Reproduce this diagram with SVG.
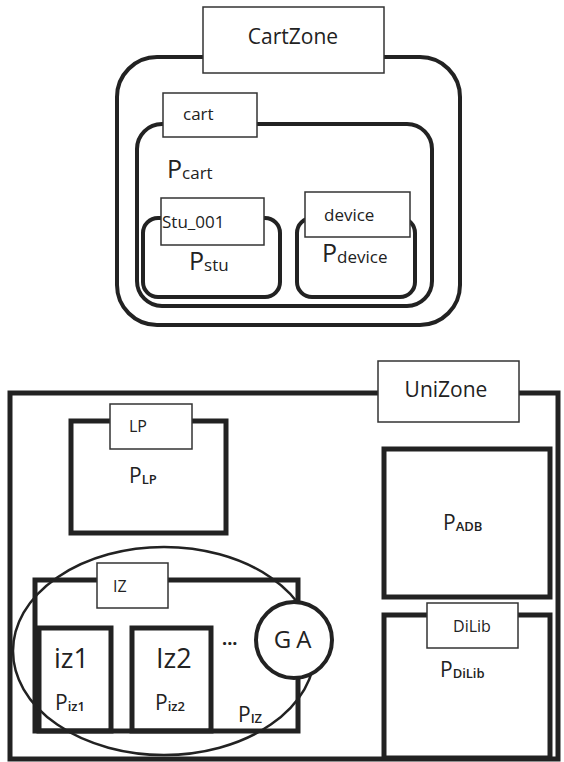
<svg xmlns="http://www.w3.org/2000/svg" width="564" height="762" viewBox="0 0 564 762">
<style>
.frame{fill:none;stroke:#222;stroke-width:4}
.thick{fill:none;stroke:#222;stroke-width:5}
.lbl{fill:#fff;stroke:#333;stroke-width:1.5}
text{font-family:"Open Sans","DejaVu Sans",sans-serif;fill:#222}
.t{font-size:17px}
.tc{text-anchor:middle}
.P{font-size:25px}
.Ps{font-size:21px}
.sub{font-size:17px}
.sub2{font-size:13px;font-weight:600}
</style>
<rect width="564" height="762" fill="#fff"/>
<g id="CartZone">
<rect class="frame" x="117" y="57" width="343" height="268" rx="40"/>
<rect class="lbl" x="203" y="7" width="181" height="66"/>
<text class="tc" x="293" y="44" font-size="21">CartZone</text>
</g>
<g id="cart">
<rect class="frame" x="137" y="124" width="295" height="182" rx="25"/>
<rect class="lbl" x="163" y="93" width="94" height="44"/>
<text class="t" x="183" y="120">cart</text>
<text class="P" x="167" y="178">P<tspan class="sub" dy="1">cart</tspan></text>
</g>
<g id="stu">
<rect class="frame" x="143" y="218" width="137" height="79" rx="15"/>
<rect class="lbl" x="161" y="198" width="103" height="47"/>
<text class="t" x="162" y="228">Stu_001</text>
<text class="P" x="189" y="270">P<tspan class="sub" dy="1">stu</tspan></text>
</g>
<g id="device">
<rect class="frame" x="297" y="218" width="118" height="79" rx="15"/>
<rect class="lbl" x="305" y="192" width="105" height="45"/>
<text class="t" x="324" y="221">device</text>
<text class="P" x="322" y="262">P<tspan class="sub" dy="1">device</tspan></text>
</g>
<g id="UniZone">
<rect class="thick" x="10" y="393" width="548" height="366"/>
<rect class="lbl" x="378" y="361" width="141" height="61"/>
<text class="tc" x="446" y="397" font-size="21">UniZone</text>
</g>
<g id="LP">
<rect class="thick" x="71" y="421" width="155" height="112"/>
<rect class="lbl" x="110" y="404" width="82" height="45"/>
<text x="129" y="432" font-size="16">LP</text>
<text class="Ps" x="129" y="483">P<tspan class="sub2" dy="1">LP</tspan></text>
</g>
<g id="ADB">
<rect class="thick" x="384" y="449" width="166" height="148"/>
<text class="Ps" x="443" y="530">P<tspan class="sub2" dy="1">ADB</tspan></text>
</g>
<g id="DiLib">
<rect class="thick" x="384" y="615" width="166" height="143"/>
<rect class="lbl" x="427" y="603" width="91" height="45"/>
<text class="tc" x="472" y="632" font-size="16">DiLib</text>
<text class="Ps" x="440" y="677">P<tspan class="sub2" dy="1">DiLib</tspan></text>
</g>
<g id="IZ">
<rect class="thick" x="35" y="580" width="263" height="151"/>
<rect class="lbl" x="97" y="563" width="71" height="45"/>
<text x="113" y="592" font-size="16">IZ</text>
<text x="238" y="722" class="Ps">P<tspan class="sub2" dy="1">IZ</tspan></text>
<text x="222" y="645" font-size="18" font-weight="bold">...</text>
</g>
<g id="iz1">
<rect class="thick" x="39" y="628" width="72" height="103"/>
<text x="54" y="668" font-size="27">iz1</text>
<text class="Ps" x="55" y="710">P<tspan class="sub2" dy="1">iz1</tspan></text>
</g>
<g id="iz2">
<rect class="thick" x="132" y="628" width="79" height="103"/>
<text x="156" y="668" font-size="27">Iz2</text>
<text class="Ps" x="155" y="710">P<tspan class="sub2" dy="1">iz2</tspan></text>
</g>
<g id="IZset">
<ellipse cx="164" cy="651" rx="151" ry="104" fill="none" stroke="#222" stroke-width="2.5"/>
</g>
<g id="GA">
<circle cx="294" cy="640" r="38" fill="#fff" stroke="#222" stroke-width="4"/>
<text class="tc" x="295" y="648" font-size="24" letter-spacing="5">GA</text>
</g>
<g id="connectors"></g>
</svg>
